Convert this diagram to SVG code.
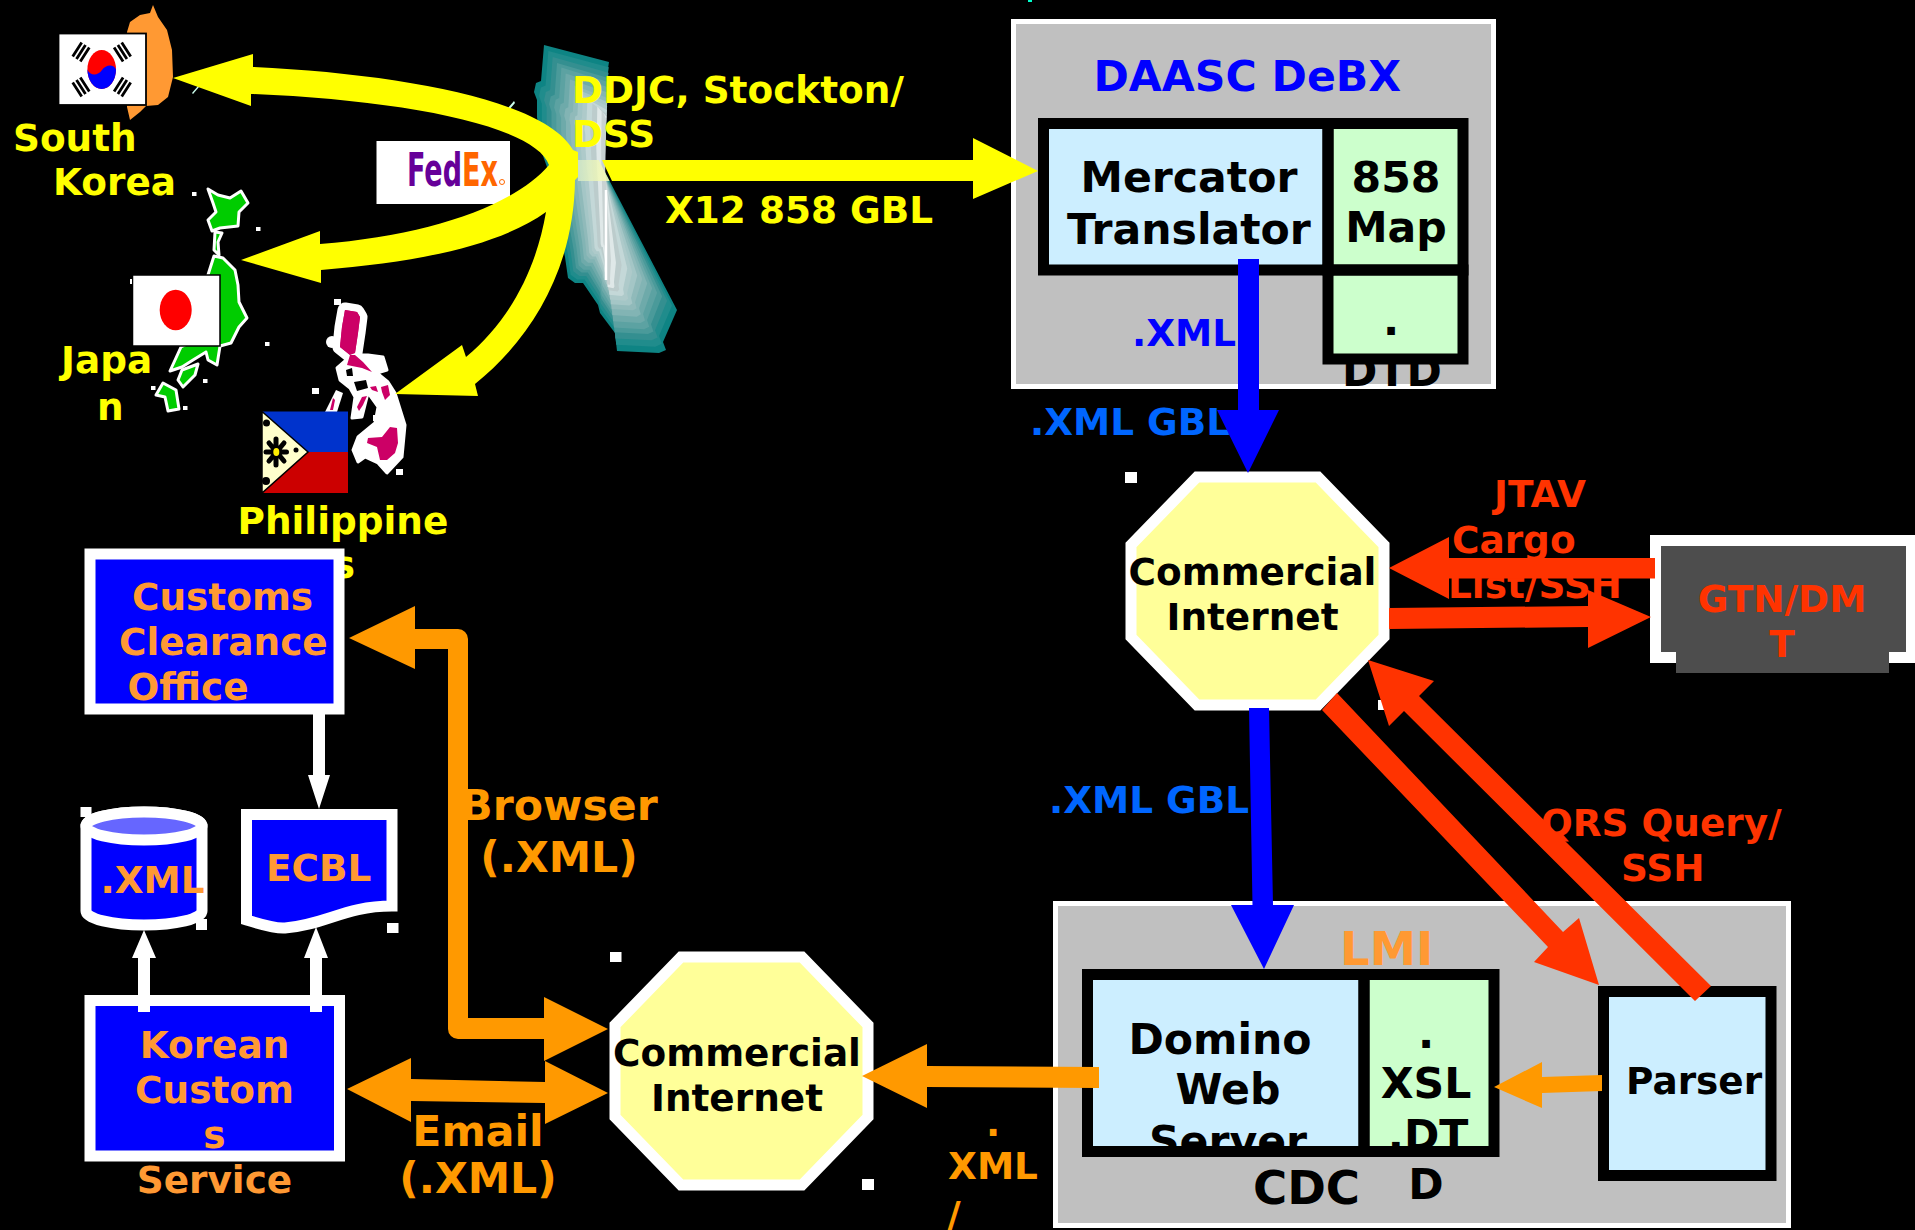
<svg xmlns="http://www.w3.org/2000/svg" width="1915" height="1230" viewBox="0 0 1915 1230">
<defs>
<style>
text{font-family:"DejaVu Sans","Liberation Sans",sans-serif;font-weight:700;font-size:37.4px;transform:translate(0,.5px)}
.big{font-size:42.6px}.huge{font-size:46.6px}
.m{text-anchor:middle}
.y{fill:#ffff00}.k{fill:#000}.b{fill:#0000ff}.lb{fill:#0066ff}.r{fill:#ff3300}.o{fill:#ff9900}.o2{fill:#ff9933}
.panel{fill:#c0c0c0;stroke:#fff;stroke-width:5}
.frame{fill:none;stroke:#000;stroke-width:11}
.lt{fill:#cceeff}.gr{fill:#ccffcc}
.blue{fill:#0000ff;stroke:#fff;stroke-width:11}
.oct{fill:#ffff99;stroke:#fff;stroke-width:11}
.dot{fill:#fff}
.jp{fill:#00cc00;stroke:#fff;stroke-width:3;stroke-linejoin:round}
.ph{fill:#cc0066;stroke:#fff;stroke-width:15;stroke-linejoin:round;paint-order:stroke}
.bar{stroke:#000;stroke-width:2.8;fill:none}
.petal{stroke:#000;stroke-width:5;stroke-linecap:round}
.fx{font-family:"DejaVu Sans",sans-serif;font-size:47px}
</style>
<path id="ca" d="M544,45L609,62L595,153L677,310L663,342L666,350L659,353L617,351L615,333L600,313L598,305L583,283L575,283L568,278L565,257L547,167L542,153L537,117L537,100L534,92L536,83L541,81Z"/>
<clipPath id="caClip"><use href="#ca"/></clipPath>
<linearGradient id="fade" x1="0" x2="1" y1="0" y2="0"><stop offset="0" stop-color="#d2e8c8"/><stop offset="1" stop-color="#ffffb0"/></linearGradient>
</defs>
<rect width="1915" height="1230" fill="#000"/>

<g id="california">
<use href="#ca" fill="#0e8484"/>
<use href="#ca" fill="#208c8c" transform="translate(606 195) scale(.93 .96) translate(-606 -195)"/>
<use href="#ca" fill="#348f90" transform="translate(606 195) scale(.86 .92) translate(-606 -195)"/>
<use href="#ca" fill="#4a9a9a" transform="translate(606 195) scale(.79 .88) translate(-606 -195)"/>
<use href="#ca" fill="#5ca2a2" transform="translate(606 195) scale(.72 .85) translate(-606 -195)"/>
<use href="#ca" fill="#6eaaaa" transform="translate(606 195) scale(.65 .81) translate(-606 -195)"/>
<use href="#ca" fill="#82b4b4" transform="translate(606 195) scale(.58 .77) translate(-606 -195)"/>
<use href="#ca" fill="#90baba" transform="translate(606 195) scale(.51 .73) translate(-606 -195)"/>
<use href="#ca" fill="#a4c6c6" transform="translate(606 195) scale(.44 .7) translate(-606 -195)"/>
<use href="#ca" fill="#aecaca" transform="translate(606 195) scale(.37 .67) translate(-606 -195)"/>
<use href="#ca" fill="#c4d8d8" transform="translate(606 195) scale(.3 .64) translate(-606 -195)"/>
<use href="#ca" fill="#bccccc" transform="translate(606 195) scale(.22 .61) translate(-606 -195)"/>
<use href="#ca" fill="#dfe8e8" transform="translate(606 195) scale(.14 .59) translate(-606 -195)"/>
<use href="#ca" fill="#c8d2d2" transform="translate(606 195) scale(.07 .57) translate(-606 -195)"/>
<path d="M606,190V280" stroke="#fff" stroke-width="2.500"/>
</g>

<g id="south-korea">
<path fill="#ff9933" d="M153,5L158,17L167,30L172,50L173,77L168,97L158,105L146,106L140,112L130,120L127,107V32L130,22L140,15L150,13Z"/>
<rect x="58.500" y="33.500" width="87.500" height="71.500" fill="#fff" stroke="#000" stroke-width="1.800"/>
<ellipse cx="101.700" cy="69.500" rx="14.300" ry="19.500" fill="#ff0000"/>
<path d="M87.400,69.500A14.300,19.500 0 0 0 116,69.500C114,64 106,64 102,70C98,76 90,76 87.400,69.500Z" fill="#0000ff"/>
<path class="bar" d="M76.500,59L85.500,45M80.300,61.400L89.300,47.400M72.700,56.600L81.700,42.600M126.900,59L117.900,45M123.100,61.400L114.100,47.400M130.700,56.600L121.700,42.600M76.500,80L85.500,94M80.300,77.600L89.300,91.600M72.700,82.400L81.700,96.400M126.900,80L117.900,94M123.100,77.600L114.100,91.600M130.700,82.400L121.700,96.400"/>
<text x="13" y="150" class="y">South</text>
<text x="53" y="194" class="y">Korea</text>
</g>

<g id="japan">
<path class="jp" d="M208,189L218,195L230,198L241,191L248,203L239,212L238,226L220,228L212,231L208,220L216,212L213,203Z"/>
<path class="jp" d="M215,232L222,233L218,242L219,255L214,250Z"/>
<path class="jp" d="M214,256L223,258L235,270L238,285L239,302L247,318L239,327L231,343L220,346L217,365L208,360L206,352L193,360L182,367L170,371L181,347L195,340L200,300Z"/>
<path class="jp" d="M182,370L198,364L195,375L183,387L178,380Z"/>
<path class="jp" d="M156,395L163,383L176,390L179,409L168,411L165,397Z"/>
<rect x="132.500" y="275" width="87.500" height="71" fill="#fff" stroke="#000" stroke-width="1.500"/>
<ellipse cx="175.700" cy="310" rx="16" ry="20.300" fill="#ff0000"/>
<text x="61" y="372" class="y">Japa</text>
<text x="97" y="419" class="y">n</text>
</g>

<g id="philippines">
<path class="ph" d="M345,310L357,312L360,317L358,333L355,353L350,355L340,347L342,327Z"/>
<path d="M337,368L352,355L368,355L383,357L387,370L377,373L388,382L395,393L405,425L402,457L387,473L378,463L365,457L358,462L353,450L358,437L375,423L378,407L368,393L362,417L352,418L355,397L350,388L340,380Z" fill="#fff" stroke="#fff" stroke-width="3" stroke-linejoin="round"/>
<circle cx="332" cy="342" r="6" fill="#fff"/>
<path d="M336,390L343,393L337,412H325Z" fill="#fff"/>
<path d="M354,382L366,380L368,388L357,391Z" fill="#000"/>
<path d="M346,370L352,368L353,376L347,376Z" fill="#000"/>
<g fill="#cc0066">
<path d="M345,310L357,312L360,317L358,333L355,353L350,355L340,347L342,327Z"/>
<path d="M350,355L355,355L363,362L372,372L362,368L347,365Z"/>
<path d="M370,387L376,386L378,392L372,390Z"/>
<path d="M381,387L388,385L390,395L385,400L382,392Z"/>
<path d="M362,397L367,396L363,405L359,411L357,407Z"/>
<path d="M390,427L397,428L398,443L395,453L387,460L380,460L377,447L367,443L368,438L382,437Z"/>
<path d="M333,398L335,400L333,410H330Z"/>
</g>
<rect x="262" y="411.500" width="86" height="40.500" fill="#0033cc"/>
<rect x="262" y="452" width="86" height="41" fill="#cc0000"/>
<path d="M262,411.500L308,452L262,493Z" fill="#ffffcc" stroke="#000" stroke-width="1.500"/>
<path class="petal" d="M276,439V465M266,452H286.500M269,443L284,461M284,443L269,461"/>
<ellipse cx="276.300" cy="452" rx="3" ry="4" fill="#ffee00"/>
<circle cx="266.500" cy="423" r="3.500" fill="#000"/><circle cx="266" cy="481" r="4" fill="#000"/><circle cx="296" cy="450" r="2.500" fill="#000"/>
<text x="237.500" y="533" class="y">Philippine</text>
<text x="344" y="577" class="y m">s</text>
</g>

<g id="fedex">
<rect x="376.500" y="141" width="133.500" height="63" fill="#fff"/>
<text x="407" y="185" class="fx" textLength="55" lengthAdjust="spacingAndGlyphs" fill="#660099">Fed</text>
<text x="462" y="185" class="fx" textLength="36" lengthAdjust="spacingAndGlyphs" fill="#ff6600">Ex</text>
<circle cx="502" cy="182" r="2.500" fill="none" stroke="#ff6600"/>
</g>

<g id="speck" fill="#ccffee">
<path d="M192,93L198,86L199,87L193,94Z"/><path d="M508,108L514,101L515,103L509,110Z"/><path d="M1028,0h4v2h-4Z" fill="#00ffcc"/>
</g>

<g id="daasc">
<rect class="panel" x="1013.500" y="21.500" width="480" height="365"/>
<text x="1093.500" y="90" class="big b">DAASC DeBX</text>
<text x="1132" y="345" class="b">.XML</text>
<text x="1392" y="385" class="big k m">DTD</text>
<rect class="lt" x="1043" y="124" width="285" height="146"/>
<rect class="gr" x="1328" y="124" width="135" height="146"/>
<rect class="gr" x="1328" y="270" width="135" height="89"/>
<g class="frame">
<path d="M1043.500,123.500H1328V270H1043.500Z"/>
<path d="M1328,123.500H1463V270H1328Z"/>
<path d="M1328,270H1463V359H1328Z"/>
</g>
<text x="1189" y="191.500" class="big k m">Mercator</text>
<text x="1189" y="243" class="big k m">Translator</text>
<text x="1396" y="191" class="big k m">858</text>
<text x="1396" y="241.500" class="big k m">Map</text>
<text x="1391" y="334" class="big k m">.</text>
</g>

<g id="lmi">
<rect class="panel" x="1055.500" y="903.500" width="733" height="322"/>
<text x="1340" y="964" class="huge o2">LMI</text>
<text x="1253" y="1203" class="huge k">CDC</text>
<text x="1426" y="1198" class="big k m">D</text>
<rect class="lt" x="1087" y="974" width="272" height="178"/>
<rect class="gr" x="1364" y="974" width="130" height="178"/>
<text x="1220" y="1053" class="big k m">Domino</text>
<text x="1228" y="1103" class="big k m">Web</text>
<text x="1228" y="1155" class="big k m">Server</text>
<text x="1426" y="1047" class="big k m">.</text>
<text x="1426" y="1097" class="big k m">XSL</text>
<text x="1428" y="1149" class="big k m">.DT</text>
<g class="frame">
<path d="M1087.500,974.500H1364V1151.500H1087.500Z"/>
<path d="M1364,974.500H1494V1151.500H1364Z"/>
</g>
</g>

<g id="parser">
<rect class="lt" x="1603" y="991" width="168" height="185"/>
<rect class="frame" x="1603.500" y="991.500" width="167.500" height="184"/>
<text x="1626" y="1093" class="k">Parser</text>
</g>

<g id="gtn">
<rect x="1650" y="535" width="265" height="128" fill="#fff"/>
<rect x="1661" y="546" width="245" height="106" fill="#4d4d4d"/>
<rect x="1676" y="650" width="213" height="23" fill="#4d4d4d"/>
<text x="1782" y="611" class="r m">GTN/DM</text>
<text x="1782" y="656" class="r m">T</text>
</g>

<g id="internet-1">
<polygon class="oct" points="1197,477 1318,477 1384,545 1384,637 1318,705 1197,705 1131,637 1131,545"/>
<text x="1252.500" y="584" class="k m">Commercial</text>
<text x="1252.500" y="629" class="k m">Internet</text>
</g>

<g id="internet-2">
<polygon class="oct" transform="translate(-516 480)" points="1197,477 1318,477 1384,545 1384,637 1318,705 1197,705 1131,637 1131,545"/>
<text x="737" y="1065.500" class="k m">Commercial</text>
<text x="737" y="1110" class="k m">Internet</text>
</g>

<g id="customs">
<rect class="blue" x="90" y="554" width="249" height="155"/>
<text x="132" y="609" class="o2">Customs</text>
<text x="119" y="654" class="o2">Clearance</text>
<text x="127.500" y="699" class="o2">Office</text>
</g>

<g id="korean-customs">
<rect class="blue" x="90" y="1000.500" width="249.500" height="155.500"/>
<text x="214.500" y="1057" class="o2 m">Korean</text>
<text x="214.500" y="1102" class="o2 m">Custom</text>
<text x="214.500" y="1147" class="o2 m">s</text>
<text x="214.500" y="1192" class="o2 m">Service</text>
</g>

<g id="xml-store">
<path class="blue" d="M86,826A58,14 0 0 1 202,826V911A58,14 0 0 1 86,911Z"/>
<ellipse cx="144" cy="826" rx="58" ry="14" fill="#6666ff" stroke="#fff" stroke-width="11"/>
<text x="100.500" y="892" class="o2">.XML</text>
</g>

<g id="ecbl">
<path class="blue" d="M246.500,814.500H392V906C345,906 325,925 285,928C275,929 260,924 246.500,920Z"/>
<text x="266" y="880" class="o2">ECBL</text>
</g>

<g id="markers" class="dot">
<rect x="80.500" y="807" width="11" height="10"/><rect x="196" y="919" width="11" height="11"/>
<rect x="387" y="923" width="11.500" height="10"/><rect x="610" y="952" width="11.500" height="10"/>
<rect x="1125" y="472" width="12" height="11"/><rect x="1378" y="700" width="12" height="10"/><rect x="862" y="1179" width="12" height="11"/>
<rect x="192" y="192" width="4.500" height="4"/><rect x="256" y="227" width="4.500" height="4"/><rect x="265" y="342" width="4.500" height="4"/>
<rect x="203" y="379" width="4.500" height="4"/><rect x="151" y="386" width="4.500" height="4"/><rect x="183" y="406" width="4.500" height="4"/><rect x="130" y="279" width="2" height="5"/>
<rect x="334" y="299" width="7" height="6"/><rect x="312" y="388" width="7" height="6"/><rect x="373" y="415" width="7" height="6"/><rect x="396" y="469" width="7" height="6"/>
</g>

<g id="labels">
<text x="572" y="102.500" class="y">DDJC, Stockton/</text>
<text x="572" y="146.500" class="y">DSS</text>
<text x="665" y="222" class="y">X12 858 GBL</text>
<text x="1030" y="434" class="lb">.XML GBL</text>
<text x="1049" y="812" class="lb">.XML GBL</text>
<text x="1494" y="506" class="r">JTAV</text>
<text x="1452" y="552" class="r">Cargo</text>
<text x="1448" y="597" class="r">List/SSH</text>
<text x="1541" y="835" class="r">QRS Query/</text>
<text x="1621" y="880" class="r">SSH</text>
<text x="559" y="819" class="big o m">Browser</text>
<text x="559" y="871" class="big o m">(.XML)</text>
<text x="478" y="1145" class="big o m">Email</text>
<text x="478" y="1192" class="big o m">(.XML)</text>
<text x="993" y="1135" class="o m">.</text>
<text x="993" y="1178" class="o m">XML</text>
<text x="947" y="1227" class="o">/</text>
</g>

<g id="connectors">
<path fill="#ffff00" d="M173,78L253,54V67C400,74 545,100 573,150L578,152V177L575,180C574,270 530,340 475,384L478,396L395,394L462,345L466,357C510,320 536,270 546,212C500,245 420,262 321,270V283L241,260L320,231V244C430,236 515,205 549,165C535,125 400,100 251,94V106Z"/>
<rect x="578" y="160" width="32" height="21" fill="url(#fade)" opacity=".85" clip-path="url(#caClip)"/>
<path fill="#ffff00" d="M602,160H973V138L1038,171L973,199V181H612Z"/>
<path fill="#0000ff" d="M1238,259H1259V410H1279L1248,473L1217,410H1238Z"/>
<path fill="#0000ff" d="M1249,708H1269L1273,905H1294L1264,969L1231,905H1252.500Z"/>
<path fill="#ff3300" d="M1655,558V578.500H1449V599L1389,568L1449,537V558Z"/>
<path fill="#ff3300" d="M1389,608L1588,606V590L1651,617L1588,648V627L1389,629Z"/>
<path fill="#ff3300" d="M1322,710L1337,693L1563,932L1579,918L1599,985L1534,962L1548,947Z"/>
<path fill="#ff3300" d="M1711,986L1695,1001L1404,711L1389,726L1368,660L1434,681L1419,696Z"/>
<path fill="#ff9900" d="M1099,1067V1088L927,1087V1108L862,1076L927,1044V1066Z"/>
<path fill="#ff9900" d="M1602,1075V1091L1542,1093V1108L1494,1087L1542,1062V1077Z"/>
<path fill="#ff9900" d="M415,629H458A10,10 0 0 1 468,639V1018H544V997L608,1029L544,1061V1039H458A10,10 0 0 1 448,1029V649H415V669L349,638L415,606Z"/>
<path fill="#ff9900" d="M411,1079L545,1082V1061L608,1093L545,1124V1103L411,1101V1122L347,1089L411,1058Z"/>
<path fill="#fff" d="M313,714H325V775H330L319,809L308,775H313Z"/>
<path fill="#fff" d="M138,1012V958H132L144,930L156,958H150V1012Z"/>
<path fill="#fff" d="M310,1012V958H304L316,927L328,958H322V1012Z"/>
</g>
</svg>
